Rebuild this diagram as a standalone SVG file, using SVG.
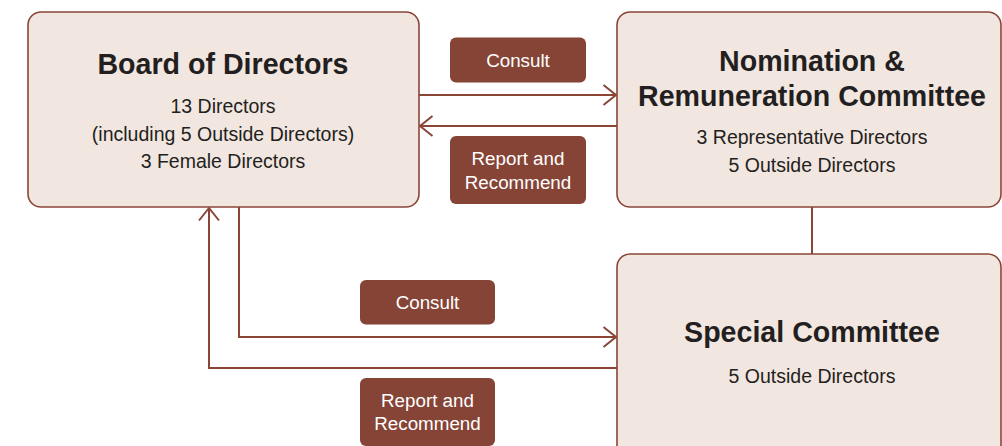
<svg xmlns="http://www.w3.org/2000/svg" width="1002" height="446" viewBox="0 0 1002 446">
<style>
.box{fill:#f2e6e0;stroke:#8a4537;stroke-width:1.6}
.lab{fill:#864437}
.ln{fill:none;stroke:#8a4537;stroke-width:2}
.t{font-family:"Liberation Sans",Arial,sans-serif;font-weight:bold;font-size:28.6px;fill:#231f20;text-anchor:middle}
.s{font-family:"Liberation Sans",Arial,sans-serif;font-size:19.5px;fill:#231f20;text-anchor:middle}
.w{font-family:"Liberation Sans",Arial,sans-serif;font-size:18.8px;fill:#ffffff;text-anchor:middle}
</style>
<defs>
<marker id="ah" markerWidth="16" markerHeight="24" refX="14" refY="12" orient="auto" markerUnits="userSpaceOnUse">
<path d="M1.5,2 L14,12 L1.5,22" fill="none" stroke="#8a4537" stroke-width="2"/>
</marker>
</defs>
<g id="connectors">
<line class="ln" x1="419" y1="95" x2="616" y2="95" marker-end="url(#ah)"/>
<line class="ln" x1="617" y1="126" x2="420" y2="126" marker-end="url(#ah)"/>
<line class="ln" x1="812" y1="207" x2="812" y2="254"/>
<polyline class="ln" points="239,207 239,337 616,337" marker-end="url(#ah)"/>
<polyline class="ln" points="617,368 209,368 209,208" marker-end="url(#ah)"/>
</g>
<g id="board">
<rect class="box" x="28" y="12" width="391" height="195" rx="13"/>
<text class="t" x="223" y="74">Board of Directors</text>
<text class="s" x="223" y="113">13 Directors</text>
<text class="s" x="223" y="141">(including 5 Outside Directors)</text>
<text class="s" x="223" y="168">3 Female Directors</text>
</g>
<g id="nrc">
<rect class="box" x="617" y="12" width="384" height="195" rx="13"/>
<text class="t" x="812" y="71">Nomination &amp;</text>
<text class="t" x="812" y="106">Remuneration Committee</text>
<text class="s" x="812" y="144">3 Representative Directors</text>
<text class="s" x="812" y="172">5 Outside Directors</text>
</g>
<g id="special">
<rect class="box" x="617" y="254" width="384" height="220" rx="13"/>
<text class="t" x="812" y="342">Special Committee</text>
<text class="s" x="812" y="383">5 Outside Directors</text>
</g>
<g id="consult-top">
<rect class="lab" x="450" y="37.5" width="136" height="45" rx="6"/>
<text class="w" x="518" y="67">Consult</text>
</g>
<g id="report-top">
<rect class="lab" x="450" y="136" width="136" height="68" rx="6"/>
<text class="w" x="518" y="165">Report and</text>
<text class="w" x="518" y="188.5">Recommend</text>
</g>
<g id="consult-bottom">
<rect class="lab" x="360" y="280" width="135" height="44.5" rx="6"/>
<text class="w" x="427.5" y="309">Consult</text>
</g>
<g id="report-bottom">
<rect class="lab" x="360" y="378" width="135" height="68" rx="6"/>
<text class="w" x="427.5" y="407">Report and</text>
<text class="w" x="427.5" y="430">Recommend</text>
</g>
</svg>
